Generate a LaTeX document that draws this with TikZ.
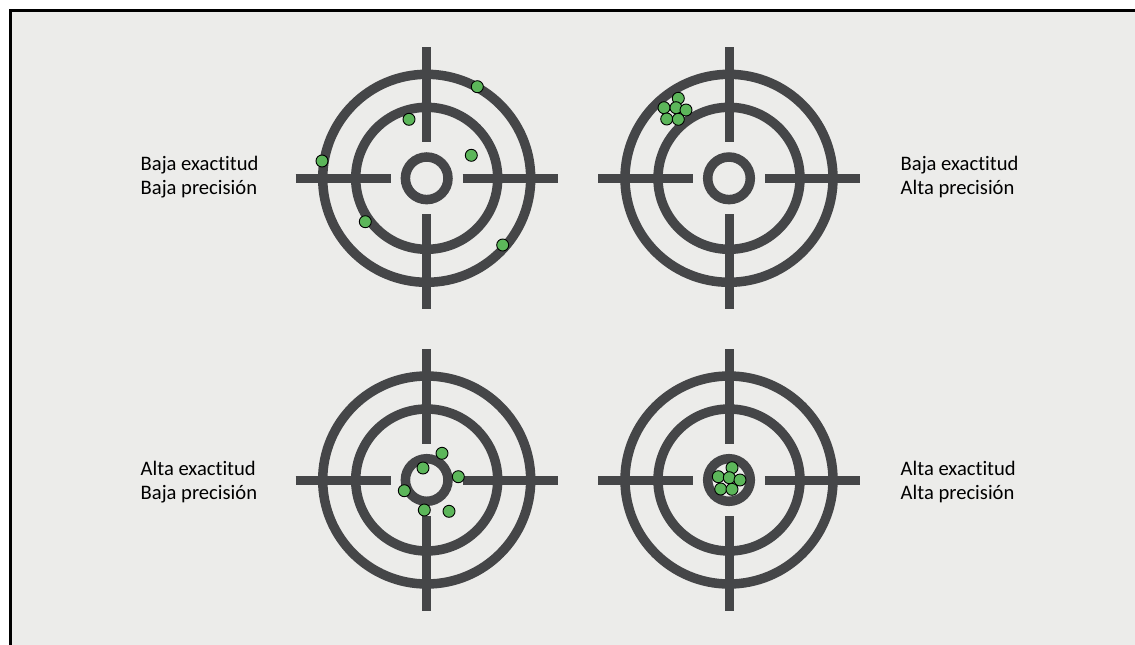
\documentclass[tikz,border=0pt]{standalone}
\usepackage{fontspec}
\setmainfont{Carlito}[Ligatures={NoCommon}]
\definecolor{bggrey}{RGB}{236,236,234}
\definecolor{targetgrey}{RGB}{69,70,72}
\definecolor{shotgreen}{RGB}{92,182,90}
\tikzset{
  ring/.style={draw=targetgrey,line width=9.5pt},
  bar/.style={draw=targetgrey,line width=9pt},
  shot/.style={fill=shotgreen,draw=black,line width=0.9pt},
  lbl/.style={anchor=base west,align=left,inner sep=0pt,
    font=\fontsize{20.6}{24}\selectfont}
}
\begin{document}
\begin{tikzpicture}[x=1pt,y=-1pt]
\useasboundingbox (0,0) rectangle (1135,645);
\fill[bggrey] (10.5,10.5) rectangle (1135,645);
\draw[line width=2.5pt] (10.5,645) -- (10.5,10.5) -- (1135,10.5);
% target top left
\begin{scope}[shift={(426.7,178.3)}]
\draw[ring] (0,0) circle [radius=104];
\draw[ring] (0,0) circle [radius=71];
\draw[ring] (0,0) circle [radius=21.3];
\draw[bar] (0,-131) -- (0,-36);
\draw[bar] (0,36) -- (0,131);
\draw[bar] (-131,0) -- (-36,0);
\draw[bar] (36,0) -- (131,0);
\draw[shot] (50.6,-91.6) circle [radius=6];
\draw[shot] (-17.7,-59) circle [radius=6];
\draw[shot] (44.6,-23) circle [radius=6];
\draw[shot] (-104.7,-17.3) circle [radius=6];
\draw[shot] (-61.4,43.4) circle [radius=6];
\draw[shot] (76,66.7) circle [radius=6];
\end{scope}
% target top right
\begin{scope}[shift={(729,178.3)}]
\draw[ring] (0,0) circle [radius=104];
\draw[ring] (0,0) circle [radius=71];
\draw[ring] (0,0) circle [radius=21.3];
\draw[bar] (0,-131) -- (0,-36);
\draw[bar] (0,36) -- (0,131);
\draw[bar] (-131,0) -- (-36,0);
\draw[bar] (36,0) -- (131,0);
\draw[shot] (-50.7,-80) circle [radius=6];
\draw[shot] (-65,-70.6) circle [radius=6];
\draw[shot] (-53,-70.6) circle [radius=6];
\draw[shot] (-43,-68.3) circle [radius=6];
\draw[shot] (-62.3,-59.3) circle [radius=6];
\draw[shot] (-50.7,-59) circle [radius=6];
\end{scope}
% target bottom left
\begin{scope}[shift={(426.7,480)}]
\draw[ring] (0,0) circle [radius=104];
\draw[ring] (0,0) circle [radius=71];
\draw[ring] (0,0) circle [radius=21.3];
\draw[bar] (0,-131) -- (0,-36);
\draw[bar] (0,36) -- (0,131);
\draw[bar] (-131,0) -- (-36,0);
\draw[bar] (36,0) -- (131,0);
\draw[shot] (15.3,-26.7) circle [radius=6];
\draw[shot] (-3.7,-12) circle [radius=6];
\draw[shot] (31.6,-3.3) circle [radius=6];
\draw[shot] (-22.4,10.7) circle [radius=6];
\draw[shot] (-2.4,30) circle [radius=6];
\draw[shot] (22.3,31.3) circle [radius=6];
\end{scope}
% target bottom right
\begin{scope}[shift={(729,480)}]
\draw[ring] (0,0) circle [radius=104];
\draw[ring] (0,0) circle [radius=71];
\draw[ring] (0,0) circle [radius=21.3];
\draw[bar] (0,-131) -- (0,-36);
\draw[bar] (0,36) -- (0,131);
\draw[bar] (-131,0) -- (-36,0);
\draw[bar] (36,0) -- (131,0);
\draw[shot] (3,-12.3) circle [radius=6];
\draw[shot] (-10.7,-3.3) circle [radius=6];
\draw[shot] (0.3,-2.3) circle [radius=6];
\draw[shot] (11,0) circle [radius=6];
\draw[shot] (-8.3,9) circle [radius=6];
\draw[shot] (3,9.3) circle [radius=6];
\end{scope}
% labels (base = second line)
\node[lbl] (lowlow) at (140.5,194.3) {Baja exactitud\\Baja precisión};
\node[lbl] (lowhigh) at (900.5,194.3) {Baja exactitud\\Alta precisión};
\node[lbl] (highlow) at (140.5,499.3) {Alta exactitud\\Baja precisión};
\node[lbl] (highhigh) at (900.5,499.3) {Alta exactitud\\Alta precisión};
\end{tikzpicture}
\end{document}
